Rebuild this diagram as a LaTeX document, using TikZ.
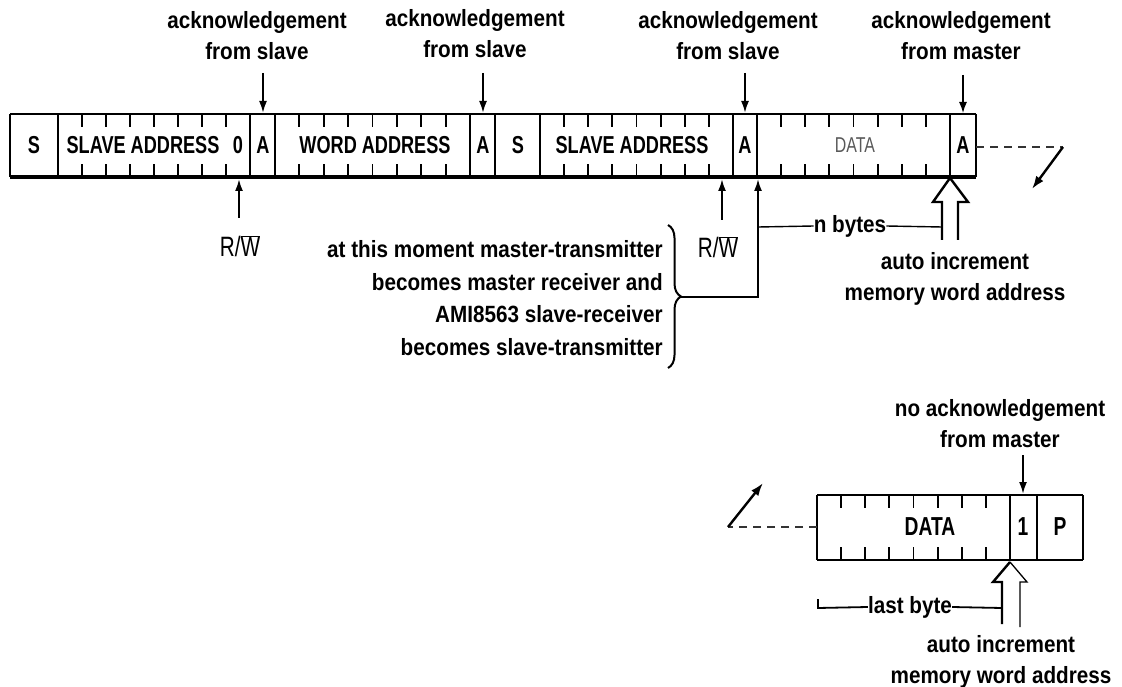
\documentclass[tikz,border=0pt]{standalone}
\usepackage{fontspec}
\setmainfont{Liberation Sans}[FakeStretch=0.88]
\newfontfamily\capf{Liberation Sans}[FakeStretch=0.74]
\usetikzlibrary{arrows.meta,decorations.pathreplacing}
\tikzset{
  lbl/.style={font=\fontsize{23.5}{31}\selectfont\bfseries, align=center, inner sep=0pt},
  notetext/.style={font=\fontsize{23.5}{32.5}\selectfont\bfseries, align=right, inner sep=0pt},
  captxt/.style={font=\capf\fontsize{24.5}{28}\selectfont\bfseries, inner sep=0pt},
  capbig/.style={font=\capf\fontsize{26}{28}\selectfont\bfseries, inner sep=0pt},
  capgray/.style={font=\capf\fontsize{21.5}{24}\selectfont, text=black!65, inner sep=0pt},
  rwf/.style={font=\capf\fontsize{28}{30}\selectfont, inner sep=0pt},
  tickln/.style={line width=1.9pt},
  arr/.style={line width=2pt, -{Latex[length=12pt,width=8pt]}},
  frameln/.style={line width=2.2pt},
  divthick/.style={line width=2.6pt},
  divthin/.style={line width=1.2pt},
  dashln/.style={line width=1.8pt, dash pattern=on 8pt off 6pt, black!80},
  openarr/.style={line width=2.4pt, line join=miter}
}
\begin{document}
\begin{tikzpicture}[x=1pt,y=-1pt]
\useasboundingbox (0,0) rectangle (1122,687);
% ---------------- top frame ----------------
\draw[frameln] (10,114) -- (976,114);
\draw[line width=3.2pt] (10,177) -- (976,177);
\draw[line width=1.2pt] (10,114) -- (10,177);
\draw[line width=1.2pt] (976,114) -- (976,177);
\foreach \x in {58,250,275,470,540,733,757} \draw[divthick] (\x,114) -- (\x,177);
\foreach \x in {495,950} \draw[divthin] (\x,114) -- (\x,177);
\foreach \a/\b in {58/250,275/470,540/733,757/950}
  \foreach \k in {1,...,7} {
    \draw[tickln] ({\a+\k*(\b-\a)/8},114) -- ++(0,13);
    \draw[tickln] ({\a+\k*(\b-\a)/8},177) -- ++(0,-13);
  }
\node[captxt] (s1) at (34,145) {S};
\node[captxt] (sa1) at (143,145) {SLAVE ADDRESS};
\node[captxt] (zero) at (238,145) {0};
\node[captxt] (a1) at (263,145) {A};
\node[captxt] (wa) at (375,145) {WORD ADDRESS};
\node[captxt] (a2) at (483,145) {A};
\node[captxt] (s2) at (518,145) {S};
\node[captxt] (sa2) at (632,145) {SLAVE ADDRESS};
\node[captxt] (a3) at (745,145) {A};
\node[capgray] (data1) at (855,145) {DATA};
\node[captxt] (a4) at (963,145) {A};
% acknowledgement labels
\node[lbl] (ack1) at (257,36) {acknowledgement\\from slave};
\node[lbl] (ack2) at (475,34) {acknowledgement\\from slave};
\node[lbl] (ack3) at (728,36) {acknowledgement\\from slave};
\node[lbl] (ack4) at (961,36) {acknowledgement\\from master};
\coordinate (k1s) at (263,73);  \coordinate (k1e) at (263,113);
\coordinate (k2s) at (483,73);  \coordinate (k2e) at (483,113);
\coordinate (k3s) at (745,73);  \coordinate (k3e) at (745,113);
\coordinate (k4s) at (963,75);  \coordinate (k4e) at (963,113);
\draw[arr] (k1s) -- (k1e);
\draw[arr] (k2s) -- (k2e);
\draw[arr] (k3s) -- (k3e);
\draw[line width=1.3pt, -{Latex[length=11pt,width=8pt]}] (k4s) -- (k4e);
% R/W
\node[rwf] (rw1) at (240,246) {R/$\overline{\hbox{W}}$};
\node[rwf] (rw2) at (718,247) {R/$\overline{\hbox{W}}$};
\coordinate (r1s) at (239,218); \coordinate (r1e) at (239,179);
\coordinate (r2s) at (722,220); \coordinate (r2e) at (722,179);
\draw[arr] (r1s) -- (r1e);
\draw[arr] (r2s) -- (r2e);
% brace and note
\node[notetext, anchor=east] (note) at (663,298) {at this moment master-transmitter\\becomes master receiver and\\AMI8563 slave-receiver\\becomes slave-transmitter};
\draw[line width=2pt, decorate, decoration={brace, amplitude=13pt}] (668,225) -- (668,368);
\coordinate (tip) at (681,297);
\coordinate (corner) at (758,297);
\coordinate (dstart) at (758,179);
\draw[line width=1.8pt, -{Latex[length=12pt,width=8pt]}] (tip) -- (corner) -- (dstart);
% n bytes
\node[lbl] (nbytes) at (850,226) {n bytes};
\coordinate (nbl) at (758,227);
\coordinate (nbr) at (942,227);
\draw[line width=1.4pt] (nbl) -- (nbytes.west);
\draw[line width=1.4pt] (nbytes.east) -- (nbr);
% open arrow (top)
\coordinate (ot) at (950,178);
\draw[openarr] (942,240) -- (942,202) -- (933,202) -- (ot) -- (968,202) -- (958,202) -- (958,240);
\node[lbl] (auto1) at (955,279) {auto increment\\memory word address};
% dashed continuation top
\coordinate (dt1) at (976,147);
\coordinate (dt2) at (1063,147);
\coordinate (dt3) at (1032,189);
\draw[dashln] (dt1) -- (dt2);
\draw[line width=2.4pt, -{Latex[length=13pt,width=9pt]}] (dt2) -- (dt3);
% ---------------- bottom frame ----------------
\draw[line width=2.4pt] (817,495) -- (1083,495);
\draw[line width=2pt] (817,560) -- (1083,560);
\draw[line width=1.6pt] (817,495) -- (817,560);
\draw[line width=2.8pt] (1010,495) -- (1010,560);
\draw[line width=1.3pt] (1037,495) -- (1037,560);
\draw[line width=2.2pt] (1083,495) -- (1083,560);
\foreach \k in {1,...,7} {
  \draw[tickln] ({817+\k*193/8},495) -- ++(0,13);
  \draw[tickln] ({817+\k*193/8},560) -- ++(0,-13);
}
\node[capbig] (data2) at (930,527) {DATA};
\node[capbig] (one) at (1023,527) {1};
\node[capbig] (p) at (1060,527) {P};
\node[lbl] (noack) at (1000,424) {no acknowledgement\\from master};
\coordinate (nas) at (1023,455); \coordinate (nae) at (1023,494);
\draw[arr] (nas) -- (nae);
% dashed continuation bottom
\coordinate (db1) at (817,527);
\coordinate (db2) at (728,527);
\coordinate (db3) at (763,483);
\draw[dashln] (db1) -- (db2);
\draw[line width=2.4pt, -{Latex[length=13pt,width=9pt]}] (db2) -- (db3);
% open arrow (bottom)
\coordinate (ob) at (1010,562);
\draw[line width=2.4pt] (1002,624) -- (1002,582) -- (993,582) -- (ob);
\draw[line width=1.3pt] (ob) -- (1027,582) -- (1020,582) -- (1020,627);
% last byte
\node[lbl] (lastb) at (910,607) {last byte};
\coordinate (lb0) at (818,599);
\coordinate (lb1) at (818,608);
\coordinate (lb2) at (1002,608);
\draw[line width=1.8pt] (lb0) -- (lb1) -- (lastb.west);
\draw[line width=1.8pt] (lastb.east) -- (lb2);
\node[lbl] (auto2) at (1001,662) {auto increment\\memory word address};
\end{tikzpicture}
\end{document}
